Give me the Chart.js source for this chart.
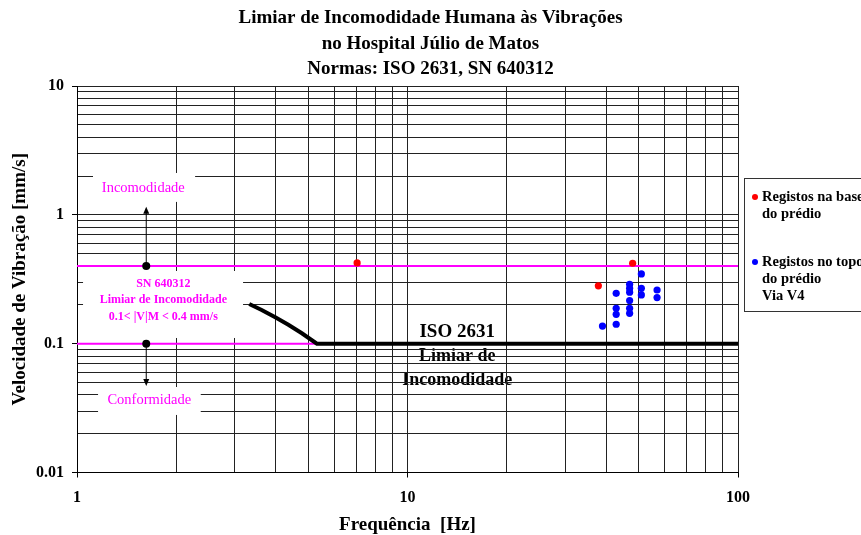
<!DOCTYPE html>
<html><head><meta charset="utf-8">
<script src="https://cdn.jsdelivr.net/npm/chart.js@4"></script>
<style>html,body{margin:0;padding:0;background:#fff}#wrap{width:861px;height:535px;position:relative}</style>
</head><body><div id="wrap"><canvas id="c"></canvas></div>
<script>
// ---- data ----
const titleLines = ['Limiar de Incomodidade Humana às Vibrações', 'no Hospital Júlio de Matos', 'Normas: ISO 2631, SN 640312'];
const xAxisTitle = 'Frequência  [Hz]';
const yAxisTitle = 'Velocidade de Vibração [mm/s]';
const xTickLabels = ['1', '10', '100'];
const yTickLabels = ['0.01', '0.1', '1', '10'];
const legendBase = ['Registos na base', 'do prédio'];
const legendTop = ['Registos no topo', 'do prédio', 'Via V4'];

const baseFreq = [7.04, 37.8, 48.0];
const baseVel  = [0.423, 0.281, 0.421];

const topFreq = [51.0, 47.0, 47.0, 47.0, 47.0, 47.0, 47.0, 51.0, 51.0, 56.9, 56.9, 42.8, 42.8, 42.8, 42.8, 38.9];
const topVel  = [0.348, 0.289, 0.269, 0.251, 0.216, 0.188, 0.172, 0.269, 0.239, 0.261, 0.228, 0.246, 0.188, 0.169, 0.1415, 0.137];

const isoFreq = [3.32, 3.62, 3.98, 4.36, 4.79, 5.32, 100];
const isoVel  = [0.203, 0.1827, 0.160, 0.140, 0.1204, 0.1, 0.1];

const snFreq = [1, 100];
const snUpper = [0.4, 0.4];
const snLower = [0.1, 0.1];

const markerFreq = [1.62, 1.62];
const markerVel  = [0.4, 0.1];
const arrowTipVel = [1.157, 0.047];

const isoText = ['ISO 2631', 'Limiar de', 'Incomodidade'];
const snText = ['SN 640312', 'Limiar de Incomodidade', '0.1< |V|M < 0.4 mm/s'];

// ---- helpers ----
const zip = (xs, ys) => xs.map((x, i) => ({x, y: ys[i]}));
const isDecade = v => Math.abs(Math.log10(v) - Math.round(Math.log10(v))) < 1e-6;
function logTicks(min, max) {
  const t = [];
  for (let e = Math.round(Math.log10(min)); e < Math.round(Math.log10(max)); e++)
    for (let m = 1; m <= 9; m++) t.push({value: m * Math.pow(10, e)});
  t.push({value: max});
  return t;
}
const SERIF = '"Liberation Serif", "Times New Roman", serif';
const MAG = '#FF00FF';

const annot = {
  id: 'annot',
  beforeDraw(chart) {
    const {ctx} = chart, x = chart.scales.x, y = chart.scales.y;
    ctx.save();
    ctx.fillStyle = '#fff';
    ctx.fillRect(0, 0, chart.width, chart.height);
    // ISO text (under grid)
    ctx.fillStyle = '#000';
    ctx.textAlign = 'center'; ctx.textBaseline = 'middle';
    const cx = x.getPixelForValue(14.14);
    ctx.font = 'bold 19px ' + SERIF;
    ctx.fillText(isoText[0], cx, y.getPixelForValue(0.1233));
    ctx.font = 'bold 18px ' + SERIF;
    ctx.fillText(isoText[1], cx, y.getPixelForValue(0.0802));
    ctx.fillText(isoText[2], cx, y.getPixelForValue(0.0523));
    ctx.restore();
  },
  beforeDatasetsDraw(chart) {
    const {ctx} = chart, x = chart.scales.x, y = chart.scales.y;
    const box = (x0, x1, y0, y1) => {
      const a = x.getPixelForValue(x0), b = x.getPixelForValue(x1);
      const c = y.getPixelForValue(y0), d = y.getPixelForValue(y1);
      ctx.fillStyle = '#fff';
      ctx.fillRect(a, d, b - a, c - d);
    };
    ctx.save();
    box(1.118, 2.277, 1.26, 2.113);
    box(1.043, 3.18, 0.1107, 0.3665);
    box(1.158, 2.368, 0.02797, 0.0461);
    ctx.fillStyle = MAG;
    ctx.textAlign = 'center'; ctx.textBaseline = 'middle';
    ctx.font = '14.5px ' + SERIF;
    ctx.fillText('Incomodidade', x.getPixelForValue(1.587), y.getPixelForValue(1.607));
    ctx.fillText('Conformidade', x.getPixelForValue(1.655), y.getPixelForValue(0.0366));
    ctx.font = 'bold 12px ' + SERIF;
    const sx = x.getPixelForValue(1.825);
    ctx.fillText(snText[0], sx, y.getPixelForValue(0.2906));
    ctx.fillText(snText[1], sx, y.getPixelForValue(0.2184));
    ctx.fillText(snText[2], sx, y.getPixelForValue(0.1621));
    // arrows
    ctx.strokeStyle = '#000'; ctx.fillStyle = '#000'; ctx.lineWidth = 1;
    for (let i = 0; i < markerFreq.length; i++) {
      const ax = x.getPixelForValue(markerFreq[i]);
      const y0 = y.getPixelForValue(markerVel[i]);
      const y1 = y.getPixelForValue(arrowTipVel[i]);
      const dir = y1 < y0 ? 1 : -1;
      ctx.beginPath(); ctx.moveTo(ax, y0); ctx.lineTo(ax, y1 + dir * 6); ctx.stroke();
      ctx.beginPath();
      ctx.moveTo(ax, y1); ctx.lineTo(ax - 3, y1 + dir * 7); ctx.lineTo(ax + 3, y1 + dir * 7); ctx.closePath(); ctx.fill();
    }
    ctx.restore();
  },
  afterDraw(chart) {
    const {ctx, chartArea} = chart;
    ctx.save();
    // title
    ctx.fillStyle = '#000';
    ctx.textAlign = 'center'; ctx.textBaseline = 'middle';
    ctx.font = 'bold 19px ' + SERIF;
    const tys = [18, 44, 69];
    titleLines.forEach((t, i) => ctx.fillText(t, chart.width / 2, tys[i]));
    // legend
    const lx = chartArea.right + 6;
    const ly = 178;
    ctx.fillStyle = '#fff';
    ctx.fillRect(lx, ly, 200, 133);
    ctx.strokeStyle = '#333'; ctx.lineWidth = 1;
    ctx.strokeRect(lx + 0.5, ly + 0.5, 200, 133);
    ctx.font = 'bold 14.5px ' + SERIF;
    ctx.textAlign = 'left';
    const groups = [{c: '#FF0000', lines: legendBase, y: ly + 19}, {c: '#0000FF', lines: legendTop, y: ly + 84}];
    groups.forEach(g => {
      ctx.fillStyle = g.c;
      ctx.beginPath(); ctx.arc(lx + 11, g.y, 3, 0, Math.PI * 2); ctx.fill();
      ctx.fillStyle = '#000';
      g.lines.forEach((t, i) => ctx.fillText(t, lx + 18, g.y + i * 17));
    });
    ctx.restore();
  }
};

const tickFont = {family: SERIF, size: 16, weight: 'bold'};
const titleFont = {family: SERIF, size: 19, weight: 'bold', lineHeight: 1};

new Chart(document.getElementById('c'), {
  type: 'scatter',
  data: {
    datasets: [
      {label: 'markers', data: zip(markerFreq, markerVel), backgroundColor: '#000', pointRadius: 4, borderWidth: 0},
      {label: legendBase.join(' '), data: zip(baseFreq, baseVel), backgroundColor: '#FF0000', pointRadius: 3.6, borderWidth: 0},
      {label: legendTop.join(' '), data: zip(topFreq, topVel), backgroundColor: '#0000FF', pointRadius: 3.6, borderWidth: 0},
      {label: 'ISO 2631', type: 'line', data: zip(isoFreq, isoVel), borderColor: '#000', borderWidth: 4, pointRadius: 0, fill: false, tension: 0},
      {label: 'SN sup', type: 'line', data: zip(snFreq, snUpper), borderColor: MAG, borderWidth: 2, pointRadius: 0, fill: false},
      {label: 'SN inf', type: 'line', data: zip(snFreq, snLower), borderColor: MAG, borderWidth: 2, pointRadius: 0, fill: false}
    ]
  },
  options: {
    responsive: true, maintainAspectRatio: false, animation: false,
    layout: {padding: {top: 86, right: 123, bottom: 0, left: 0}},
    plugins: {legend: {display: false}, tooltip: {enabled: false}, title: {display: false}},
    scales: {
      x: {
        type: 'logarithmic', min: 1, max: 100, position: 'bottom',
        afterFit(s) { s.height = 62.5; },
        afterBuildTicks(s) { s.ticks = logTicks(1, 100); },
        ticks: {
          autoSkip: false, maxRotation: 0, padding: 11, color: '#000', font: tickFont,
          callback(v) { return isDecade(v) ? xTickLabels[Math.round(Math.log10(v))] : ''; }
        },
        grid: {color: '#222', lineWidth: 1, tickLength: 5, tickColor: c => (c.tick && isDecade(c.tick.value)) ? '#000' : 'rgba(0,0,0,0)'},
        border: {display: true, color: '#000', width: 1},
        title: {display: true, text: xAxisTitle, color: '#000', font: titleFont, padding: {top: 0, bottom: 0}}
      },
      y: {
        type: 'logarithmic', min: 0.01, max: 10,
        afterFit(s) { s.width = 77; },
        afterBuildTicks(s) { s.ticks = logTicks(0.01, 10); },
        ticks: {
          autoSkip: false, padding: 8, color: '#000', font: tickFont,
          callback(v) { return isDecade(v) ? yTickLabels[Math.round(Math.log10(v)) + 2] : ''; }
        },
        grid: {color: '#222', lineWidth: 1, tickLength: 5, tickColor: c => (c.tick && isDecade(c.tick.value)) ? '#000' : 'rgba(0,0,0,0)'},
        border: {display: true, color: '#000', width: 1},
        title: {display: true, text: yAxisTitle, color: '#000', font: titleFont, padding: {top: 11, bottom: 0}}
      }
    }
  },
  plugins: [annot]
});
</script>
</body></html>
